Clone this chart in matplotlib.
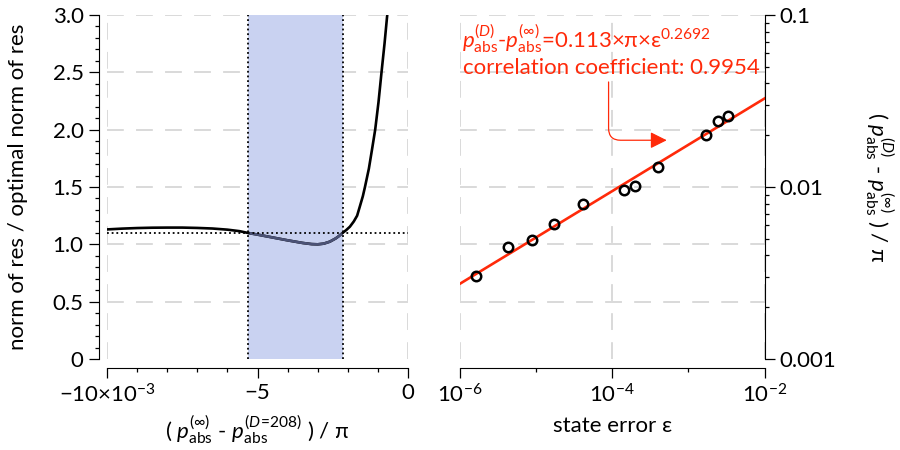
import numpy as np
import matplotlib
matplotlib.use("Agg")
import matplotlib.pyplot as plt
from matplotlib.ticker import FixedLocator, NullFormatter

plt.rcParams['font.family'] = ['Lato', 'DejaVu Sans']
plt.rcParams['mathtext.fontset'] = 'custom'
plt.rcParams['mathtext.rm'] = 'Lato'
plt.rcParams['mathtext.it'] = 'Lato:italic'
plt.rcParams['mathtext.bf'] = 'Lato:bold'
plt.rcParams['mathtext.fallback'] = 'stixsans'

# ---------------- data: left panel ----------------
shift_x = [-10.0, -9.5, -9.0, -8.5, -8.0, -7.5, -7.0, -6.5, -6.0, -5.6, -5.33, -5.0, -4.5,
           -4.0, -3.5, -3.2, -3.0, -2.8, -2.6, -2.4, -2.3, -2.17, -2.05, -1.93, -1.8,
           -1.69, -1.6, -1.5, -1.43, -1.3, -1.2, -1.09, -0.98, -0.88, -0.78, -0.69, -0.64]
ratio_y = [1.13, 1.137, 1.142, 1.145, 1.146, 1.146, 1.143, 1.138, 1.128, 1.115, 1.10, 1.085, 1.06,
           1.035, 1.012, 1.002, 1.0, 1.006, 1.023, 1.052, 1.071, 1.10, 1.125, 1.154, 1.20,
           1.25, 1.33, 1.42, 1.50, 1.66, 1.82, 2.0, 2.24, 2.5, 2.75, 3.0, 3.14]
threshold = 1.1
band_lo, band_hi = -5.33, -2.17

# ---------------- data: right panel ----------------
eps = [1.64e-6, 4.23e-6, 8.73e-6, 1.73e-5, 4.12e-5, 1.41e-4, 2.00e-4, 4.02e-4, 1.68e-3, 2.47e-3, 3.33e-3]
dp = [0.00303, 0.00445, 0.00491, 0.00608, 0.00795, 0.00967, 0.0101, 0.0131, 0.0201, 0.0242, 0.0258]
fit_x = [1e-6, 1e-2]
fit_y = [0.00274, 0.0327]

W, H = 900, 450
fig = plt.figure(figsize=(9, 4.5), dpi=100)
axL = fig.add_axes([107 / W, 1 - 359 / H, 301 / W, 344 / H])
axR = fig.add_axes([460 / W, 1 - 359 / H, 304.5 / W, 344 / H])

grid_col = '#cfcfcf'
grid_ls = (0, (11, 8))
red = '#ff2a0a'
FS = 16
P_INF = r'$\mathit{p}^{(\infty)}_{\mathrm{abs}}$'
P_D = r'$\mathit{p}^{(D)}_{\mathrm{abs}}$'
P_208 = r'$\mathit{p}^{(D\!=\!208)}_{\mathrm{abs}}$'

# ---- left ----
for yv in [0.5, 1.0, 1.5, 2.0, 2.5, 3.0]:
    axL.axhline(yv, color=grid_col, lw=1.1, ls=grid_ls, zorder=0)
for xv in [-10, -5, 0]:
    axL.axvline(xv, color=grid_col, lw=1.1, ls=grid_ls, zorder=0)
band = axL.axvspan(band_lo, band_hi, color='#c9d2f1', lw=0, zorder=1)
axL.plot(shift_x, ratio_y, color='black', lw=1.9, zorder=2)
inband, = axL.plot(shift_x, ratio_y, color='#4b5276', lw=1.9, zorder=2.5)
inband.set_clip_path(band)
dot = (0, (1, 1.6))
axL.axhline(threshold, color='black', lw=1.3, ls=dot, zorder=4)
axL.axvline(band_lo, color='black', lw=1.3, ls=dot, zorder=4)
axL.axvline(band_hi, color='black', lw=1.3, ls=dot, zorder=4)
axL.set_xlim(-10, 0)
axL.set_ylim(0, 3)
for s in ['top', 'right']:
    axL.spines[s].set_visible(False)
axL.spines['left'].set_position(('outward', 5.8))
axL.spines['bottom'].set_position(('outward', 6.2))
axL.spines['left'].set_bounds(0, 3)
axL.spines['bottom'].set_bounds(-10, 0)
axL.set_yticks([0, 0.5, 1.0, 1.5, 2.0, 2.5, 3.0])
axL.set_yticklabels(['0', '0.5', '1.0', '1.5', '2.0', '2.5', '3.0'])
axL.yaxis.set_minor_locator(FixedLocator(np.arange(0, 3.01, 0.1)))
axL.set_xticks([-10, -5, 0])
axL.set_xticklabels(['−10×10$^{−3}$', '−5', '0'])
axL.xaxis.set_minor_locator(FixedLocator(np.arange(-10, 0.1, 1)))
axL.tick_params(which='major', length=7, width=0.9, labelsize=FS, pad=4)
axL.tick_params(which='minor', length=3, width=0.9)
axL.set_ylabel('norm of res / optimal norm of res', fontsize=FS, labelpad=18)
axL.set_xlabel('( ' + P_INF + ' - ' + P_208 + ' ) / π', fontsize=FS, labelpad=6)

# ---- right ----
axR.set_xscale('log')
axR.set_yscale('log')
axR.set_xlim(1e-6, 1e-2)
axR.set_ylim(1e-3, 1e-1)
for k in range(6):
    axR.axhline(10 ** (-1 - k / 3), color=grid_col, lw=1.1, ls=grid_ls, zorder=0)
for xv in [1e-6, 1e-4, 1e-2]:
    axR.axvline(xv, color=grid_col, lw=1.1, ls=grid_ls, zorder=0)
axR.plot(fit_x, fit_y, color=red, lw=1.9, zorder=2)
axR.plot(eps, dp, 'o', mfc='none', mec='black', mew=1.8, ms=6.8, zorder=3)
for s in ['top', 'left']:
    axR.spines[s].set_visible(False)
axR.spines['bottom'].set_position(('outward', 6.2))
axR.yaxis.tick_right()
axR.yaxis.set_label_position('right')
axR.set_xticks([1e-6, 1e-4, 1e-2])
axR.set_xticklabels(['10$^{−6}$', '10$^{−4}$', '10$^{−2}$'])
axR.xaxis.set_minor_locator(FixedLocator([1e-5, 1e-3]))
axR.xaxis.set_minor_formatter(NullFormatter())
axR.set_yticks([1e-3, 1e-2, 1e-1])
axR.set_yticklabels(['0.001', '0.01', '0.1'])
minor_y = [m * 10.0 ** e for e in (-3, -2) for m in range(2, 10)]
axR.yaxis.set_minor_locator(FixedLocator(minor_y))
axR.yaxis.set_minor_formatter(NullFormatter())
axR.tick_params(which='major', length=7, width=0.9, labelsize=FS, pad=4)
axR.tick_params(which='minor', length=3, width=0.9)
axR.set_xlabel('state error ε', fontsize=FS, labelpad=7)
axR.set_ylabel('( ' + P_D + ' - ' + P_INF + ' ) / π', fontsize=FS, rotation=270, labelpad=42)

axR.text(0.005, 0.93, P_D + '-' + P_INF + '=0.113×π×ε$^{0.2692}$',
         transform=axR.transAxes, color=red, fontsize=FS, ha='left', va='center')
axR.text(0.01, 0.845, 'correlation coefficient: 0.9954', transform=axR.transAxes,
         color=red, fontsize=FS, ha='left', va='center')
axR.annotate('', xy=(5.2e-4, 0.0187), xytext=(8.95e-5, 0.0408),
             arrowprops=dict(arrowstyle='-|>,head_length=1.0,head_width=0.5', color=red, lw=0.9,
                             connectionstyle='angle,angleA=90,angleB=0,rad=12',
                             shrinkA=0, shrinkB=0),
             zorder=5)

fig.savefig('out.png', dpi=100)
